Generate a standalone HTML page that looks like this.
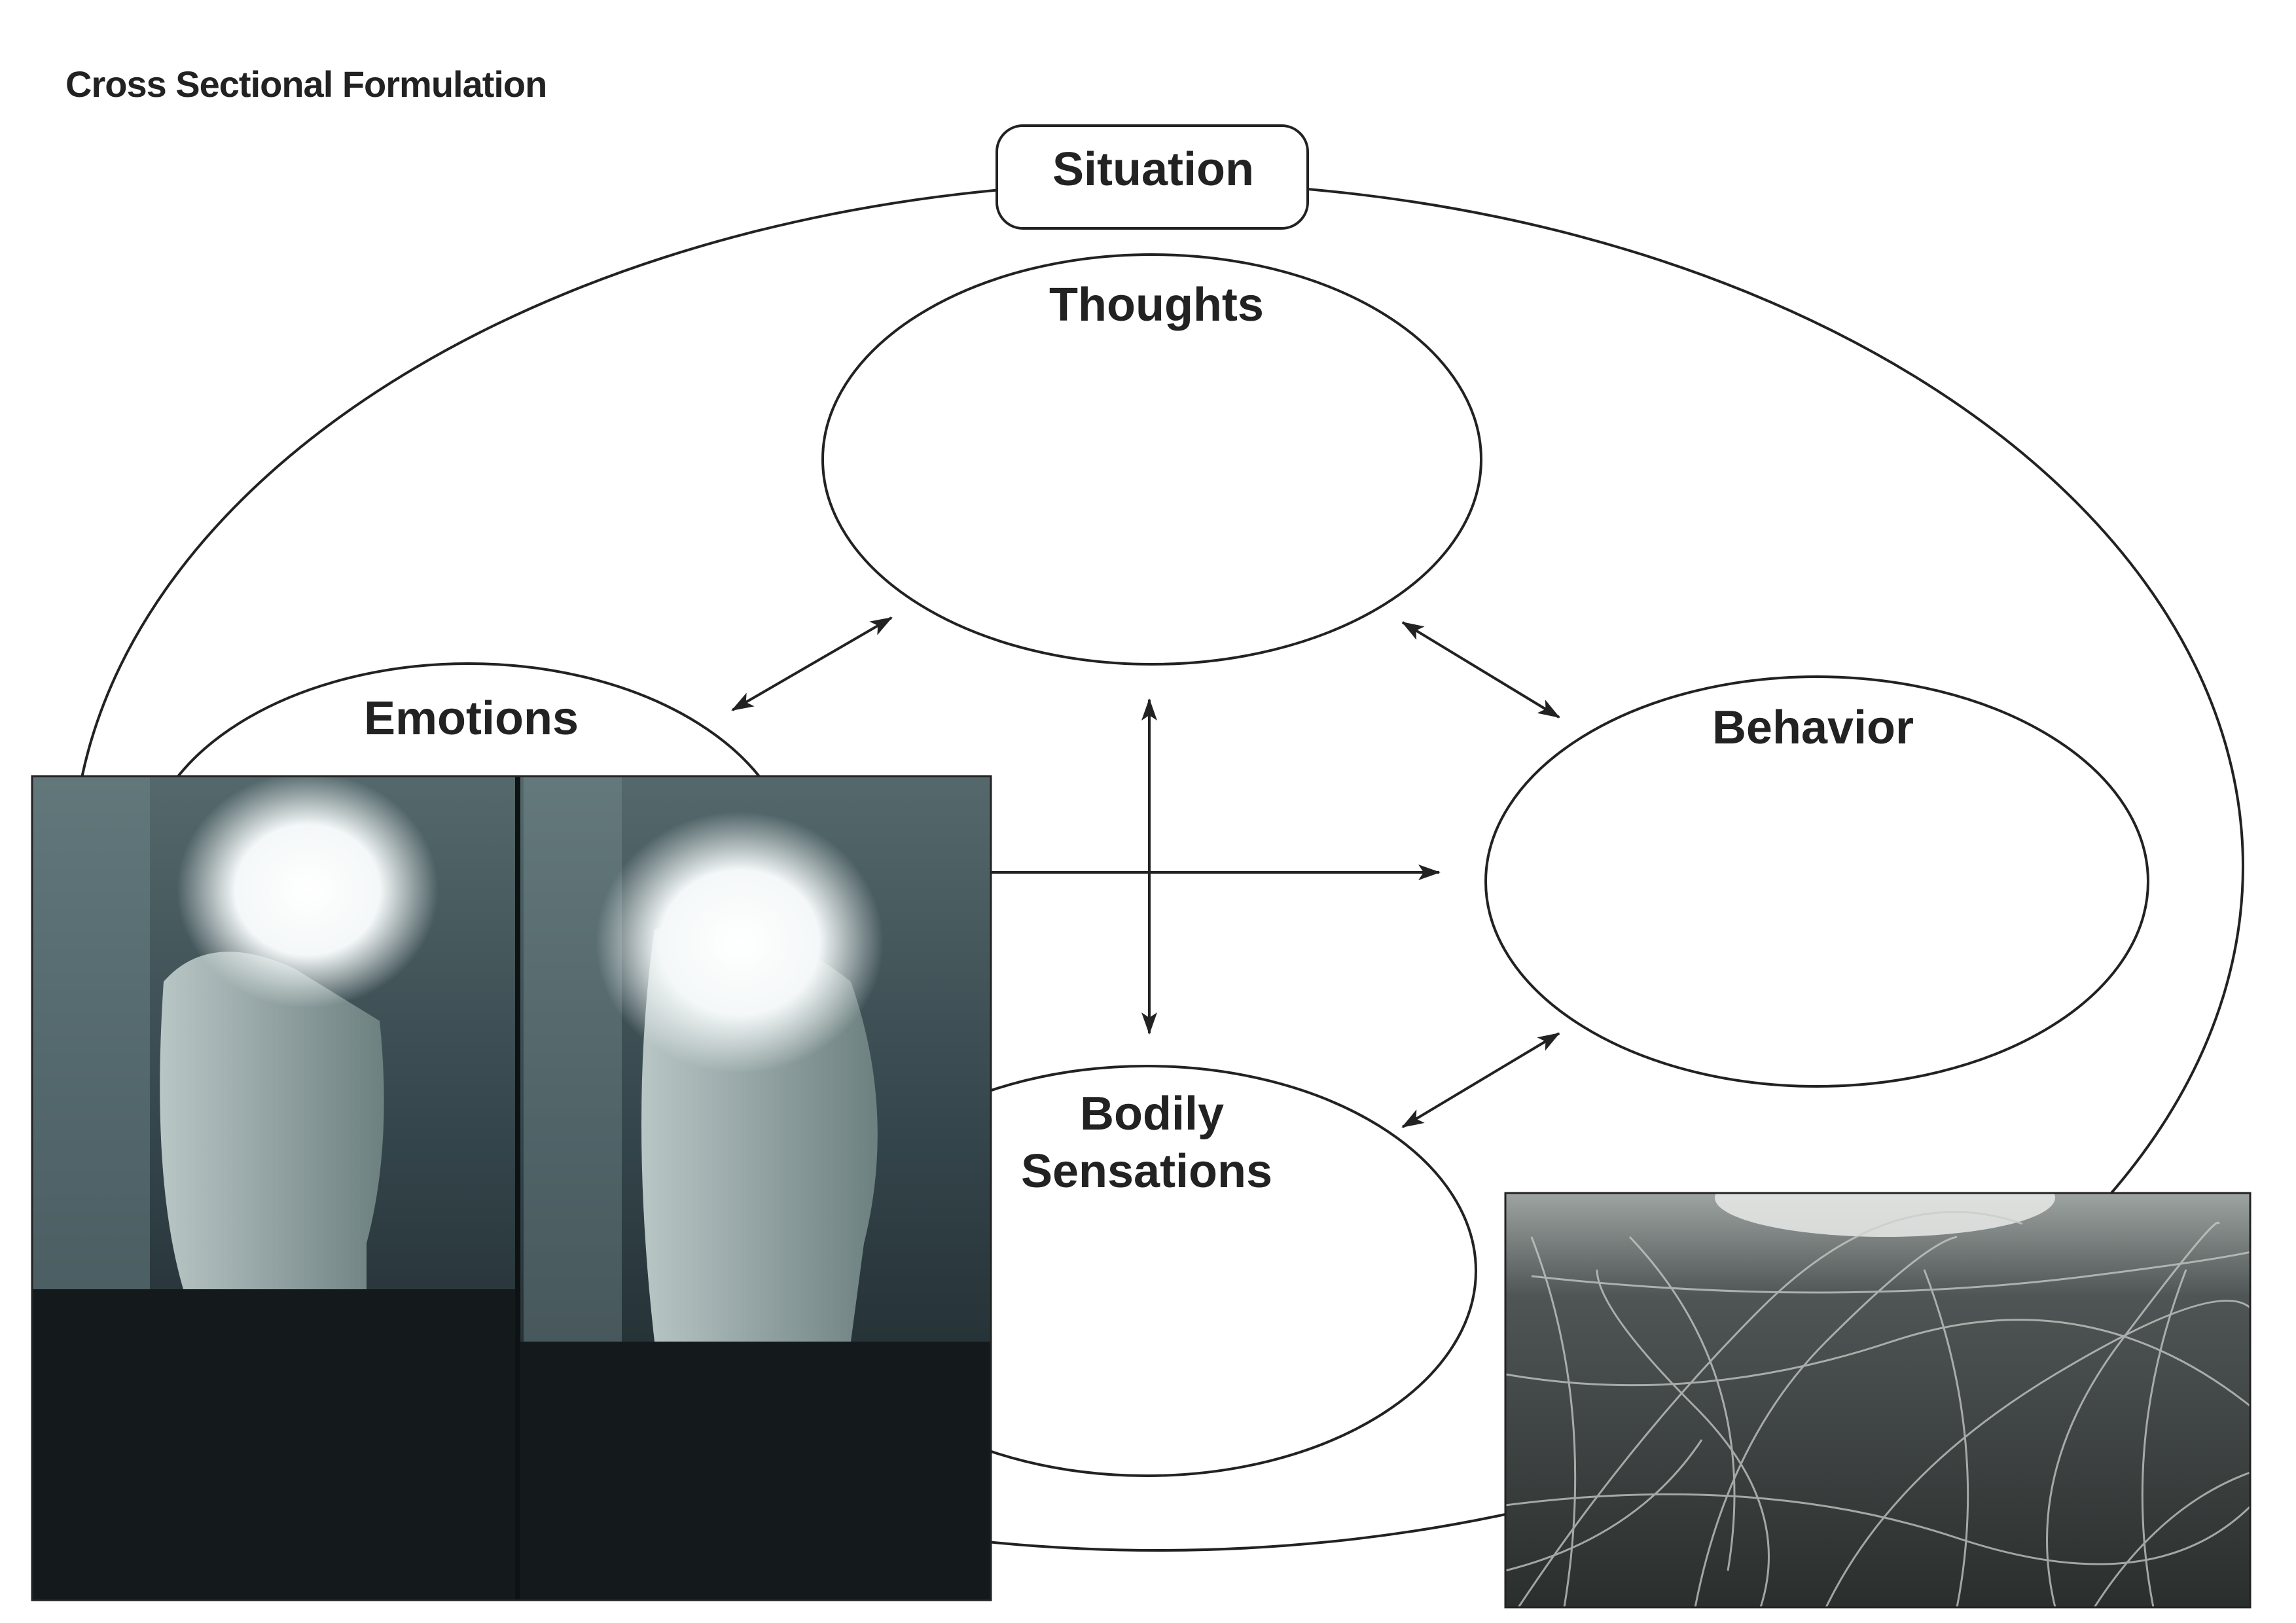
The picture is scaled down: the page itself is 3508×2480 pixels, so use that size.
<!DOCTYPE html>
<html><head><meta charset="utf-8"><style>
html,body{margin:0;padding:0;background:#fff;}
body{width:3508px;height:2480px;position:relative;overflow:hidden;font-family:"Liberation Sans",sans-serif;}
svg{position:absolute;left:0;top:0;}
</style></head><body>
<svg width="3508" height="2480" viewBox="0 0 3508 2480">
<defs>
<marker id="ah" markerWidth="34" markerHeight="24" refX="32" refY="12" orient="auto-start-reverse" markerUnits="userSpaceOnUse" viewBox="0 0 34 24">
<path d="M0,0 L34,12 L0,24 L8,12 z" fill="#222"/></marker>
<radialGradient id="face1" cx="0.5" cy="0.5" r="0.5"><stop offset="0" stop-color="#fff"/><stop offset="0.55" stop-color="#f4f8f8"/><stop offset="1" stop-color="#f4f8f8" stop-opacity="0"/></radialGradient>
<linearGradient id="bg1" x1="0" y1="0" x2="0" y2="1"><stop offset="0" stop-color="#55696c"/><stop offset="0.45" stop-color="#33444a"/><stop offset="1" stop-color="#151c1e"/></linearGradient>
<linearGradient id="body1" x1="0" y1="0" x2="1" y2="0"><stop offset="0" stop-color="#b9c6c6"/><stop offset="1" stop-color="#6d8080"/></linearGradient>
<linearGradient id="bg2" x1="0" y1="0" x2="0" y2="1"><stop offset="0" stop-color="#9ea4a2"/><stop offset="0.25" stop-color="#4f5554"/><stop offset="1" stop-color="#2a2f2e"/></linearGradient>
<clipPath id="c2"><rect x="2300" y="1823" width="1138" height="633"/></clipPath>
</defs>
<text x="100" y="148" font-size="56" font-weight="bold" fill="#222" letter-spacing="-1">Cross Sectional Formulation</text>
<ellipse cx="1769" cy="1324" rx="1658" ry="1045" fill="none" stroke="#222" stroke-width="4"/>
<rect x="1523" y="192" width="475" height="157" rx="40" fill="#fff" stroke="#222" stroke-width="4"/>
<text x="1762" y="283" font-size="72" font-weight="bold" text-anchor="middle" fill="#222">Situation</text>
<ellipse cx="1760" cy="702" rx="503" ry="313" fill="#fff" stroke="#222" stroke-width="4"/>
<text x="1767" y="490" font-size="72" font-weight="bold" text-anchor="middle" fill="#222">Thoughts</text>
<ellipse cx="716" cy="1327" rx="497" ry="313" fill="#fff" stroke="#222" stroke-width="4"/>
<text x="720" y="1122" font-size="72" font-weight="bold" text-anchor="middle" fill="#222">Emotions</text>
<ellipse cx="2776" cy="1347" rx="506" ry="313" fill="#fff" stroke="#222" stroke-width="4"/>
<text x="2770" y="1136" font-size="72" font-weight="bold" text-anchor="middle" fill="#222">Behavior</text>
<ellipse cx="1752" cy="1942" rx="503" ry="313" fill="#fff" stroke="#222" stroke-width="4"/>
<text x="1760" y="1726" font-size="72" font-weight="bold" text-anchor="middle" fill="#222">Bodily</text>
<text x="1752" y="1814" font-size="72" font-weight="bold" text-anchor="middle" fill="#222">Sensations</text>
<g stroke="#222" stroke-width="4" fill="none">
<line x1="1119" y1="1085" x2="1362" y2="944" marker-start="url(#ah)" marker-end="url(#ah)"/>
<line x1="2143" y1="951" x2="2382" y2="1096" marker-start="url(#ah)" marker-end="url(#ah)"/>
<line x1="1756" y1="1069" x2="1756" y2="1579" marker-start="url(#ah)" marker-end="url(#ah)"/>
<line x1="1514" y1="1333" x2="2199" y2="1333" marker-end="url(#ah)"/>
<line x1="2143" y1="1722" x2="2382" y2="1579" marker-start="url(#ah)" marker-end="url(#ah)"/>
</g>
<!-- left photo -->
<g>
<rect x="49" y="1186" width="1465" height="1259" fill="url(#bg1)"/>
<rect x="49" y="1186" width="180" height="1259" fill="#6e8689" opacity="0.5"/>
<rect x="800" y="1186" width="150" height="1259" fill="#7a9194" opacity="0.4"/>
<path d="M250,1500 Q320,1420 450,1480 L580,1560 Q600,1750 560,1900 L560,1970 L280,1970 Q230,1800 250,1500z" fill="url(#body1)"/>
<path d="M1000,1420 Q1150,1380 1300,1500 Q1370,1700 1320,1900 L1300,2050 L1000,2050 Q960,1700 1000,1420z" fill="url(#body1)"/>
<rect x="49" y="1970" width="738" height="475" fill="#141a1b"/>
<rect x="795" y="2050" width="719" height="395" fill="#141a1b"/>
<ellipse cx="470" cy="1360" rx="200" ry="180" fill="url(#face1)"/>
<ellipse cx="1130" cy="1440" rx="220" ry="200" fill="url(#face1)"/>
<rect x="787" y="1186" width="8" height="1259" fill="#0e1213"/>
<rect x="49" y="1186" width="1465" height="1259" fill="none" stroke="#222" stroke-width="3"/>
</g>
<!-- right photo -->
<g clip-path="url(#c2)">
<rect x="2300" y="1823" width="1138" height="633" fill="url(#bg2)"/>
<ellipse cx="2880" cy="1830" rx="260" ry="60" fill="#e8eae8" opacity="0.85"/>
<g stroke="#c9cdca" stroke-width="3" fill="none" opacity="0.75">
<path d="M2320,2456 Q2490,2200 2690,2000 T3090,1870"/>
<path d="M2390,2456 Q2440,2150 2340,1890"/>
<path d="M2590,2456 Q2640,2200 2790,2050 T2990,1890"/>
<path d="M3290,2456 Q3240,2200 3340,1940"/>
<path d="M2790,2456 Q2890,2250 3140,2100 T3440,2000"/>
<path d="M2300,2100 Q2590,2150 2890,2050 T3440,2150"/>
<path d="M2300,2300 Q2690,2250 2990,2350 T3440,2300"/>
<path d="M2990,2456 Q3040,2200 2940,1940"/>
<path d="M3140,2456 Q3090,2250 3240,2050 T3390,1870"/>
<path d="M2490,1890 Q2690,2100 2640,2400"/>
<path d="M2340,1950 Q2790,2000 3190,1950 T3440,1890"/>
<path d="M2690,2456 Q2740,2300 2590,2150 T2440,1940"/>
<path d="M2300,2400 Q2500,2350 2600,2200"/>
<path d="M3200,2456 Q3300,2300 3438,2250"/>
</g>
</g>
<rect x="2300" y="1823" width="1138" height="633" fill="none" stroke="#222" stroke-width="3"/>
</svg>
</body></html>
